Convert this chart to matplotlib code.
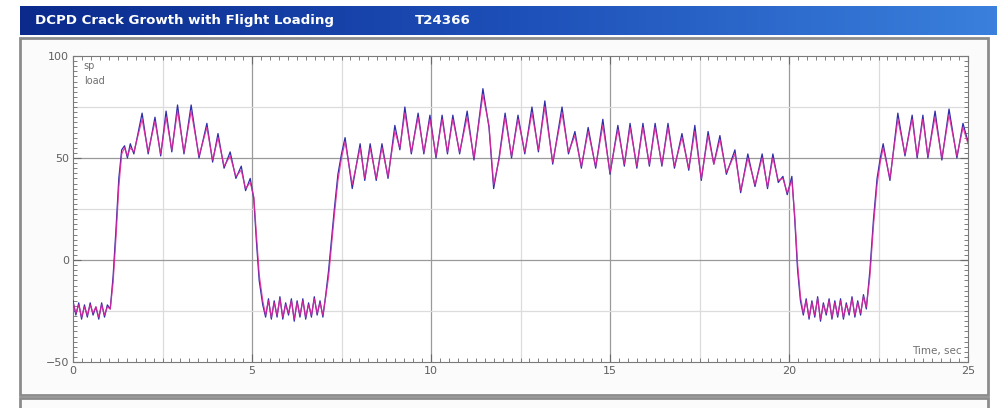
import numpy as np
import matplotlib
matplotlib.use("Agg")
import matplotlib.pyplot as plt
from matplotlib.patches import Rectangle
from matplotlib.ticker import MultipleLocator

# DCPD crack growth, flight loading - sp (command) and load
title = "DCPD Crack Growth with Flight Loading"
specimen = "T24366"

time_s = [
    0.00, 0.08, 0.16, 0.24, 0.32, 0.40, 0.48, 0.56,
    0.64, 0.72, 0.80, 0.88, 0.96, 1.04, 1.12, 1.20,
    1.28, 1.36, 1.44, 1.52, 1.60, 1.70, 1.93, 2.10,
    2.29, 2.45, 2.60, 2.76, 2.92, 3.10, 3.30, 3.52,
    3.74, 3.90, 4.05, 4.22, 4.39, 4.55, 4.70, 4.82,
    4.95, 5.05, 5.12, 5.20, 5.30, 5.38, 5.46, 5.54,
    5.62, 5.70, 5.78, 5.86, 5.94, 6.02, 6.10, 6.18,
    6.26, 6.34, 6.42, 6.50, 6.58, 6.66, 6.74, 6.82,
    6.90, 6.98, 7.06, 7.14, 7.22, 7.30, 7.40, 7.50,
    7.60, 7.80, 8.02, 8.15, 8.30, 8.47, 8.63, 8.80,
    8.99, 9.13, 9.27, 9.45, 9.64, 9.80, 9.97, 10.14,
    10.31, 10.46, 10.61, 10.80, 11.01, 11.20, 11.45, 11.62,
    11.75, 11.90, 12.07, 12.25, 12.43, 12.62, 12.82, 13.00,
    13.18, 13.40, 13.66, 13.84, 14.02, 14.20, 14.39, 14.60,
    14.80, 15.00, 15.22, 15.40, 15.56, 15.75, 15.92, 16.10,
    16.26, 16.45, 16.62, 16.80, 17.01, 17.20, 17.37, 17.55,
    17.74, 17.90, 18.07, 18.25, 18.49, 18.65, 18.85, 19.05,
    19.25, 19.40, 19.55, 19.70, 19.83, 19.95, 20.08, 20.16,
    20.24, 20.32, 20.40, 20.48, 20.56, 20.64, 20.72, 20.80,
    20.88, 20.96, 21.04, 21.12, 21.20, 21.28, 21.36, 21.44,
    21.52, 21.60, 21.68, 21.76, 21.84, 21.92, 22.00, 22.08,
    22.16, 22.26, 22.36, 22.46, 22.55, 22.63, 22.82, 23.04,
    23.24, 23.44, 23.58, 23.74, 23.88, 24.08, 24.27, 24.47,
    24.69, 24.86, 25.00,
]

sp = [
    -20, -27, -21, -29, -22, -28, -21, -27,
    -23, -29, -21, -28, -22, -24, -8, 15,
    40, 54, 56, 50, 57, 52, 72, 52,
    70, 51, 73, 53, 76, 52, 76, 50,
    67, 48, 62, 45, 53, 40, 46, 34,
    40, 30, 10, -10, -22, -28, -19, -29,
    -20, -28, -18, -29, -21, -27, -19, -30,
    -20, -28, -19, -29, -21, -28, -18, -27,
    -20, -28, -17, -5, 10, 25, 42, 52,
    60, 35, 57, 39, 57, 39, 57, 40,
    66, 54, 75, 52, 72, 52, 71, 50,
    71, 52, 71, 52, 73, 49, 84, 65,
    35, 50, 72, 50, 71, 52, 75, 53,
    78, 47, 75, 52, 63, 45, 65, 45,
    69, 42, 66, 46, 67, 45, 67, 46,
    67, 46, 67, 45, 62, 44, 66, 39,
    63, 47, 61, 42, 54, 33, 52, 36,
    52, 35, 52, 38, 41, 32, 41, 20,
    -5, -20, -27, -19, -29, -20, -28, -18,
    -30, -21, -27, -19, -29, -20, -28, -19,
    -29, -21, -27, -18, -28, -20, -27, -17,
    -24, -5, 20, 40, 50, 57, 39, 72,
    51, 71, 50, 71, 50, 73, 49, 74,
    50, 67, 58,
]

load = [
    -21, -26, -22, -28, -23, -27, -22, -26,
    -23, -28, -22, -27, -23, -24, -11, 11,
    36, 52, 55, 51, 55, 53, 69, 53,
    68, 52, 70, 54, 73, 53, 73, 51,
    65, 49, 60, 46, 51, 41, 44, 35,
    38, 31, 13, -7, -20, -27, -20, -28,
    -21, -27, -19, -28, -22, -26, -20, -29,
    -21, -27, -20, -28, -22, -27, -19, -26,
    -21, -27, -18, -8, 7, 22, 39, 50,
    58, 37, 55, 40, 55, 40, 55, 41,
    63, 55, 72, 53, 70, 53, 69, 51,
    69, 53, 69, 53, 70, 50, 81, 66,
    37, 49, 70, 51, 69, 53, 72, 54,
    75, 48, 72, 53, 61, 46, 63, 46,
    66, 43, 64, 47, 65, 46, 65, 47,
    65, 47, 65, 46, 60, 45, 63, 40,
    61, 47, 59, 43, 52, 34, 50, 37,
    50, 36, 50, 39, 40, 33, 39, 22,
    -2, -18, -26, -20, -28, -21, -27, -19,
    -29, -22, -26, -20, -28, -21, -27, -20,
    -28, -22, -26, -19, -27, -21, -26, -18,
    -23, -8, 17, 37, 48, 55, 40, 69,
    52, 69, 51, 69, 51, 70, 50, 71,
    51, 65, 57,
]

W, H = 997, 408
fig = plt.figure(figsize=(W / 100, H / 100), dpi=100)
fig.patch.set_facecolor("white")

def fx(px):
    return px / W

def fy(py):
    return 1 - py / H

# window panel around the plot (behind the axes)
fig.add_artist(Rectangle((fx(20), fy(395)), fx(968), 357 / H, transform=fig.transFigure,
                         facecolor="#fbfbfb", edgecolor="#8c8c8c", lw=2.0, zorder=-5))
# next panel peeking in at the bottom
fig.add_artist(Rectangle((fx(20), fy(420)), fx(968), 22 / H, transform=fig.transFigure,
                         facecolor="#fbfbfb", edgecolor="#8c8c8c", lw=2.0, zorder=-5))

# blue title bar with gradient
tb = fig.add_axes([fx(20), fy(35), fx(977), 29 / H])
grad = np.linspace(0, 1, 256).reshape(1, -1)
cmap = matplotlib.colors.LinearSegmentedColormap.from_list("bar", ["#0b2a8c", "#1d4fb8", "#3a80dc"])
tb.imshow(grad, aspect="auto", cmap=cmap, extent=[0, 1, 0, 1])
tb.set_axis_off()
tb.text(15 / 977, 0.5, title, color="white", fontweight="bold",
        fontsize=9.6, va="center", ha="left", transform=tb.transAxes)
tb.text(395 / 977, 0.5, specimen, color="white", fontweight="bold",
        fontsize=9.6, va="center", ha="left", transform=tb.transAxes)

ax = fig.add_axes([fx(73), fy(362), fx(895), 306 / H])
ax.set_facecolor("white")
ax.plot(time_s, sp, color="#2e2ea8", lw=0.9, zorder=3)
ax.plot(time_s, load, color="#e8249c", lw=0.9, alpha=0.85, zorder=4)

ax.set_xlim(0, 25)
ax.set_ylim(-50, 100)
ax.xaxis.set_major_locator(MultipleLocator(5))
ax.xaxis.set_minor_locator(MultipleLocator(0.25))
ax.yaxis.set_major_locator(MultipleLocator(50))
ax.yaxis.set_minor_locator(MultipleLocator(2.5))
ax.tick_params(which="both", direction="in", top=True, right=True, colors="#6a6a6a",
               labelcolor="#606060", labelsize=8, pad=3)
ax.tick_params(which="major", length=6, width=0.8)
ax.tick_params(which="minor", length=3, width=0.6)

for x in np.arange(2.5, 25, 2.5):
    ax.axvline(x, color="#9a9a9a" if x % 5 == 0 else "#dcdcdc", lw=0.9, zorder=1)
for y in (-25, 0, 25, 50, 75):
    ax.axhline(y, color="#9a9a9a" if y % 50 == 0 else "#dcdcdc", lw=0.9, zorder=1)

for s in ax.spines.values():
    s.set_color("#7a7a7a")
    s.set_linewidth(0.8)

ax.text(0.012, 0.985, "sp", transform=ax.transAxes, fontsize=7, color="#707070", va="top")
ax.text(0.012, 0.935, "load", transform=ax.transAxes, fontsize=7, color="#707070", va="top")
ax.text(0.993, 0.02, "Time, sec", transform=ax.transAxes, fontsize=7.5, color="#707070",
        ha="right", va="bottom")

fig.savefig("out.png", dpi=100, facecolor=fig.get_facecolor())
